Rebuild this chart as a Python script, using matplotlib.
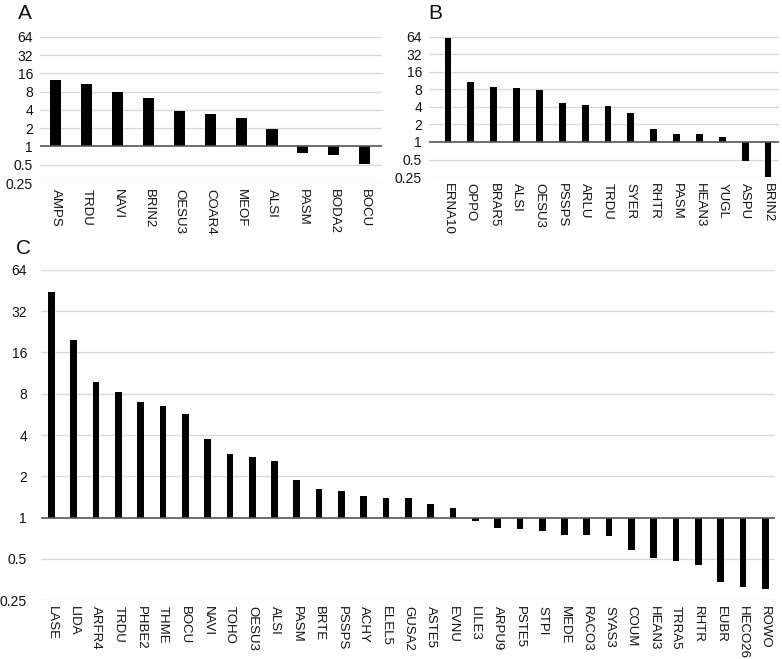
import numpy as np
import matplotlib
matplotlib.use("Agg")
import matplotlib.pyplot as plt

plt.rcParams['font.family'] = ['Liberation Sans', 'DejaVu Sans']

# panel A
labels_a = ["AMPS", "TRDU", "NAVI", "BRIN2", "OESU3", "COAR4", "MEOF", "ALSI",
            "PASM", "BODA2", "BOCU"]
values_a = [12.5, 10.6, 7.8, 6.3, 3.8, 3.5, 3.0, 1.96, 0.79, 0.72, 0.51]

# panel B
labels_b = ["ERNA10", "OPPO", "BRAR5", "ALSI", "OESU3", "PSSPS", "ARLU", "TRDU",
            "SYER", "RHTR", "PASM", "HEAN3", "YUGL", "ASPU", "BRIN2"]
values_b = [61, 10.6, 8.9, 8.5, 7.9, 4.75, 4.4, 4.2, 3.1, 1.7, 1.35, 1.35, 1.2,
            0.47, 0.25]

# panel C
labels_c = ["LASE", "LIDA", "ARFR4", "TRDU", "PHBE2", "THME", "BOCU", "NAVI",
            "TOHO", "OESU3", "ALSI", "PASM", "BRTE", "PSSPS", "ACHY", "ELEL5",
            "GUSA2", "ASTE5", "EVNU", "LILE3", "ARPU9", "PSTE5", "STPI", "MEDE",
            "RACO3", "SYAS3", "COUM", "HEAN3", "TRRA5", "RHTR", "EUBR", "HECO26",
            "ROWO"]
values_c = [44, 19.7, 9.7, 8.3, 7.0, 6.5, 5.7, 3.76, 2.9, 2.78, 2.6, 1.87, 1.62,
            1.55, 1.43, 1.39, 1.39, 1.26, 1.17, 0.95, 0.84, 0.83, 0.80, 0.75,
            0.75, 0.73, 0.58, 0.51, 0.48, 0.45, 0.34, 0.31, 0.30]

yticks = [0.25, 0.5, 1, 2, 4, 8, 16, 32, 64]
ytick_labels = ["0.25", "0.5", "1", "2", "4", "8", "16", "32", "64"]


def draw_panel(ax, labels, values, width, xlim, ylab_pad):
    x = np.arange(len(labels))
    vals = np.array(values)
    ax.bar(x, vals - 1, bottom=1, width=width, color="black", zorder=3)
    ax.set_yscale("log", base=2)
    ax.set_ylim(0.25, 64)
    ax.set_xlim(*xlim)
    ax.set_yticks(yticks)
    ax.set_yticklabels(ytick_labels)
    ax.minorticks_off()
    ax.set_xticks(x)
    ax.set_xticklabels(labels, rotation=270, va="top", ha="center")
    ax.tick_params(axis="x", length=0, pad=4, labelsize=9.5, colors="#111111")
    ax.tick_params(axis="y", length=0, pad=ylab_pad, labelsize=10, colors="#111111")
    for s in ax.spines.values():
        s.set_visible(False)
    for t in yticks:
        if t != 1:
            ax.axhline(t, color="#d9d9d9", lw=1.0, zorder=1)
    ax.axhline(1, color="#555555", lw=1.2, zorder=4)


fig = plt.figure(figsize=(7.82, 6.59), dpi=100)

ax_a = fig.add_axes([0.051, 0.7223, 0.437, 0.2216])
draw_panel(ax_a, labels_a, values_a, 0.36, (-0.52, 10.55), 5)

ax_b = fig.add_axes([0.5486, 0.7314, 0.4476, 0.2125])
draw_panel(ax_b, labels_b, values_b, 0.3, (-0.83, 14.48), 5)

ax_c = fig.add_axes([0.0524, 0.0895, 0.939, 0.5008])
draw_panel(ax_c, labels_c, values_c, 0.3, (-0.47, 32.45), 10)

fig.text(18 / 782, 1 - 19 / 659, "A", fontsize=15, color="#111111")
fig.text(428 / 782, 1 - 19 / 659, "B", fontsize=15, color="#111111")
fig.text(16 / 782, 1 - 254 / 659, "C", fontsize=15, color="#111111")

fig.savefig("out.png", dpi=100)
